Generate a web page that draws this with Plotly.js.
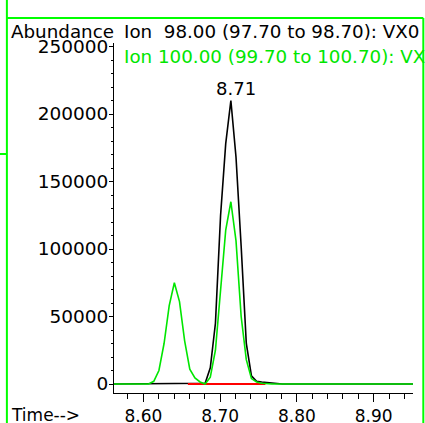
<!DOCTYPE html>
<html>
<head>
<meta charset="utf-8">
<script src="https://cdn.plot.ly/plotly-3.0.1.min.js"></script>
<style>html,body{margin:0;padding:0;background:#fff;overflow:hidden}#chart{width:425px;height:423px}</style>
</head>
<body>
<div id="chart"></div>
<script>
// Retention time (min)
var times = [8.5601, 8.5668, 8.5735, 8.5802, 8.5869, 8.5936, 8.6002, 8.6069, 8.6136, 8.6203,
             8.6270, 8.6337, 8.6404, 8.6471, 8.6538, 8.6605, 8.6672, 8.6739, 8.6805, 8.6872,
             8.6939, 8.7006, 8.7073, 8.7140, 8.7207, 8.7274, 8.7341, 8.7408, 8.7475, 8.7542,
             8.7608, 8.7675, 8.7742, 8.7809, 8.8000, 8.8500, 8.9000, 8.9600];
// Ion 98.00 abundance
var ion98 = [0, 0, 0, 0, 0, 0, 0, 0, 0, 0,
             0, 0, 0, 0, 0, 0, 0, 0, 500, 12000,
             45000, 125000, 178000, 210000, 168000, 102000, 30000, 6000, 2000, 1500,
             1200, 800, 300, 0, 0, 0, 0, 0];
// Ion 100.00 abundance
var ion100 = [0, 0, 0, 0, 0, 0, 0, 0, 2000, 10000,
              30000, 58000, 75000, 61000, 32000, 11000, 4500, 1500, 0, 5000,
              25000, 68000, 114000, 135000, 106000, 50000, 18000, 4000, 1500, 500,
              0, 0, 0, 0, 0, 0, 0, 0];
// Integration baseline
var baseTimes = [8.658, 8.759];
var baseValues = [0, 0];
// Labels
var peakLabel = "8.71";
var ion98Label = "Ion\u00A0 98.00 (97.70 to 98.70): VX0";
var ion100Label = "Ion 100.00 (99.70 to 100.70): VX";
var yLabel = "Abundance";
var xLabel = "Time-->";
var yTicks = [0, 50000, 100000, 150000, 200000, 250000];
var xTicks = [8.60, 8.70, 8.80, 8.90];

var GREEN = '#00e600';
var FONT = 'DejaVu Sans';

var iPeak = ion98.indexOf(Math.max.apply(null, ion98));

var traces = [
  {x: times, y: ion98, type: 'scatter', mode: 'lines', line: {color: '#000000', width: 1.6}, hoverinfo: 'skip'},
  {x: baseTimes, y: baseValues, type: 'scatter', mode: 'lines', line: {color: '#ff0000', width: 2}, hoverinfo: 'skip'},
  {x: times, y: ion100, type: 'scatter', mode: 'lines', line: {color: GREEN, width: 1.6}, hoverinfo: 'skip'}
];

function px2x(p){ return (p - 114) / 298.7; }
function px2y(p){ return (393 - p) / 350; }

var layout = {
  width: 425, height: 423,
  margin: {l: 114, r: 12.3, t: 43, b: 30, pad: 0},
  paper_bgcolor: '#ffffff', plot_bgcolor: '#ffffff',
  showlegend: false,
  font: {family: FONT, color: '#000000', size: 17},
  xaxis: {
    range: [8.5618, 8.9512], showgrid: false, zeroline: false,
    showline: true, linecolor: '#000000', linewidth: 1,
    ticks: 'outside', ticklen: 8, tickcolor: '#000000', tickwidth: 1,
    tickvals: xTicks, ticktext: xTicks.map(function(v){return v.toFixed(2);}),
    tickfont: {family: FONT, size: 17, color: '#000000'},
    minor: {dtick: 0.02, tick0: 8.6, ticks: 'outside', ticklen: 5, tickcolor: '#000000', tickwidth: 1, showgrid: false}
  },
  yaxis: {
    range: [-6667, 252593], showgrid: false, zeroline: false,
    showline: true, linecolor: '#000000', linewidth: 1,
    ticks: 'outside', ticklen: 4, tickcolor: '#000000', tickwidth: 1,
    tickvals: yTicks, ticktext: yTicks.map(function(v){return String(v);}),
    tickfont: {family: FONT, size: 18.5, color: '#000000'},
    ticklabelstandoff: -3,
    minor: {dtick: 10000, tick0: 0, ticks: 'outside', ticklen: 2, tickcolor: '#000000', tickwidth: 1, showgrid: false}
  },
  annotations: [
    {text: yLabel, xref: 'paper', yref: 'paper', x: px2x(9), y: px2y(31.5), xanchor: 'left', yanchor: 'middle', showarrow: false, font: {family: FONT, size: 18.3, color: '#000000'}},
    {text: ion98Label, xref: 'paper', yref: 'paper', x: px2x(122), y: px2y(31.5), xanchor: 'left', yanchor: 'middle', showarrow: false, font: {family: FONT, size: 18.3, color: '#000000'}},
    {text: ion100Label, xref: 'paper', yref: 'paper', x: px2x(122), y: px2y(56), xanchor: 'left', yanchor: 'middle', showarrow: false, font: {family: FONT, size: 18.3, color: GREEN}},
    {text: peakLabel, xref: 'x', yref: 'y', x: times[iPeak], y: ion98[iPeak], xanchor: 'center', yanchor: 'bottom', xshift: 5, yshift: 0, showarrow: false, font: {family: FONT, size: 18, color: '#000000'}},
    {text: xLabel, xref: 'paper', yref: 'paper', x: px2x(9), y: px2y(415), xanchor: 'left', yanchor: 'middle', showarrow: false, font: {family: FONT, size: 17, color: '#000000'}}
  ],
  shapes: [
    {type: 'line', xref: 'paper', yref: 'paper', x0: px2x(7), x1: px2x(7), y0: px2y(-5), y1: px2y(430), line: {color: '#00ff00', width: 2}},
    {type: 'line', xref: 'paper', yref: 'paper', x0: px2x(7), x1: px2x(423), y0: px2y(18), y1: px2y(18), line: {color: '#00ff00', width: 2}},
    {type: 'line', xref: 'paper', yref: 'paper', x0: px2x(423), x1: px2x(423), y0: px2y(18), y1: px2y(430), line: {color: '#00ff00', width: 2}},
    {type: 'line', xref: 'paper', yref: 'paper', x0: px2x(-2), x1: px2x(7), y0: px2y(154), y1: px2y(154), line: {color: '#00ff00', width: 2}}
  ]
};

Plotly.newPlot('chart', traces, layout, {staticPlot: true, displayModeBar: false});
</script>
</body>
</html>
